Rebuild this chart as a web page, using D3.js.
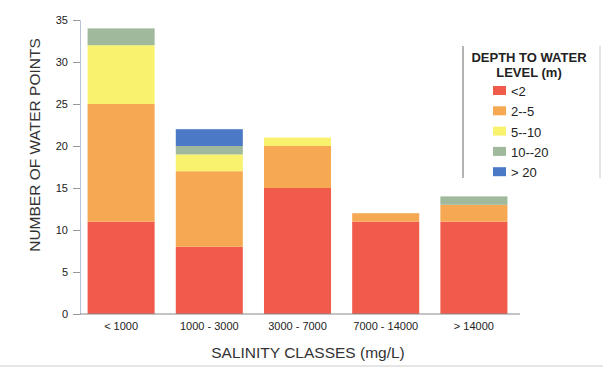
<!DOCTYPE html>
<html><head><meta charset="utf-8">
<script src="https://cdn.jsdelivr.net/npm/d3@7"></script>
<style>body{margin:0;background:#fff}svg{display:block}text{font-family:Arial,"Liberation Sans",sans-serif}</style>
</head><body><svg id="c" width="603" height="369"></svg>
<script>
const categories = ["< 1000", "1000 - 3000", "3000 - 7000", "7000 - 14000", "> 14000"];
const seriesNames = ["<2", "2--5", "5--10", "10--20", "> 20"];
const s_lt2 = [11, 8, 15, 11, 11];
const s_2to5 = [14, 9, 5, 1, 2];
const s_5to10 = [7, 2, 1, 0, 0];
const s_10to20 = [2, 1, 0, 0, 1];
const s_gt20 = [0, 2, 0, 0, 0];
const yTicks = [0, 5, 10, 15, 20, 25, 30, 35];
const colors = ["#f15b4c", "#f6a952", "#f9f26e", "#a0b99c", "#4c79c6"];

const series = [s_lt2, s_2to5, s_5to10, s_10to20, s_gt20];
const rows = categories.map((c, i) => {
  const r = {cat: c};
  seriesNames.forEach((n, k) => r[n] = series[k][i]);
  return r;
});
const stacked = d3.stack().keys(seriesNames)(rows);

const svg = d3.select("#c");
const x = d3.scaleBand().domain(categories).range([77, 518]).paddingInner(0.24).paddingOuter(0.12);
const y = d3.scaleLinear().domain([0, 35]).range([314, 20]);

// bars
svg.append("g").selectAll("g").data(stacked).join("g")
  .attr("fill", (d, i) => colors[i])
  .selectAll("rect").data(d => d).join("rect")
  .attr("x", d => x(d.data.cat))
  .attr("width", x.bandwidth())
  .attr("y", d => y(d[1]))
  .attr("height", d => y(d[0]) - y(d[1]));

// y axis
const ya = svg.append("g").attr("transform", "translate(80,0)")
  .call(d3.axisLeft(y).tickValues(yTicks).tickSize(7).tickPadding(5));
ya.select(".domain").attr("stroke", "#b8c4d6");
ya.selectAll(".tick line").attr("stroke", "#999");
ya.selectAll("text").attr("font-size", 11).attr("fill", "#222");

// x axis
const xa = svg.append("g").attr("transform", "translate(0,314)")
  .call(d3.axisBottom(x).tickSize(0).tickPadding(8));
xa.select(".domain").attr("stroke", "#888").attr("d", "M80,0H520");
xa.selectAll("text").attr("font-size", 11).attr("fill", "#222");

// axis titles
svg.append("text").attr("transform", "translate(40,145) rotate(-90)")
  .attr("text-anchor", "middle").attr("font-size", 15.5).attr("fill", "#333")
  .text("NUMBER OF WATER POINTS");
svg.append("text").attr("x", 308).attr("y", 358)
  .attr("text-anchor", "middle").attr("font-size", 15.5).attr("fill", "#333")
  .text("SALINITY CLASSES (mg/L)");

// legend
const lg = svg.append("g");
lg.append("line").attr("x1", 463).attr("x2", 463).attr("y1", 46).attr("y2", 178).attr("stroke", "#666");
lg.append("line").attr("x1", 600).attr("x2", 600).attr("y1", 46).attr("y2", 178).attr("stroke", "#ccc");
lg.append("text").attr("x", 529).attr("y", 62).attr("text-anchor", "middle")
  .attr("font-size", 13).attr("font-weight", "bold").attr("fill", "#222").text("DEPTH TO WATER");
lg.append("text").attr("x", 529).attr("y", 77).attr("text-anchor", "middle")
  .attr("font-size", 13).attr("font-weight", "bold").attr("fill", "#222").text("LEVEL (m)");
const li = lg.selectAll("g.it").data(seriesNames).join("g").attr("class", "it")
  .attr("transform", (d, i) => `translate(493,${91 + i * 20.3})`);
li.append("rect").attr("x", 0).attr("y", -5).attr("width", 13).attr("height", 9).attr("fill", (d, i) => colors[i]);
li.append("text").attr("x", 18).attr("y", 5).attr("font-size", 13).attr("fill", "#222").text(d => d);

// scan edge line
svg.append("line").attr("x1", 0).attr("x2", 603).attr("y1", 366).attr("y2", 366).attr("stroke", "#ccc");
</script></body></html>
